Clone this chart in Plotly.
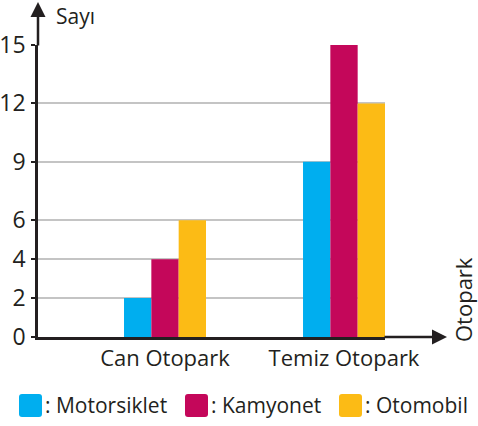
import plotly.graph_objects as go

categories = ["Can Otopark", "Temiz Otopark"]
series_names = ["Motorsiklet", "Kamyonet", "Otomobil"]
motorsiklet = [2, 9]
kamyonet = [4, 15]
otomobil = [6, 12]
y_ticks = [0, 2, 4, 6, 9, 12, 15]

colors = ["#00aeef", "#c4075a", "#fcbb15"]
values = [motorsiklet, kamyonet, otomobil]
FONT = "Open Sans"
INK = "#231f20"

W, H = 478, 426
L, R, T, B = 38, 385, 45, 337


def px2x(px):
    return (px - L) / (R - L)


def py2y(py):
    return (B - py) / (B - T)


def rounded_rect(x0, y0, x1, y1, r=3):
    # pixel coordinates -> paper path with rounded corners
    pts = []
    def P(x, y):
        return f"{px2x(x):.5f},{py2y(y):.5f}"
    return (f"M {P(x0 + r, y0)} L {P(x1 - r, y0)} Q {P(x1, y0)} {P(x1, y0 + r)} "
            f"L {P(x1, y1 - r)} Q {P(x1, y1)} {P(x1 - r, y1)} "
            f"L {P(x0 + r, y1)} Q {P(x0, y1)} {P(x0, y1 - r)} "
            f"L {P(x0, y0 + r)} Q {P(x0, y0)} {P(x0 + r, y0)} Z")


fig = go.Figure()
for name, vals, col in zip(series_names, values, colors):
    fig.add_trace(go.Bar(x=categories, y=vals, name=name, marker_color=col,
                         marker_line_width=0, showlegend=False))

fig.update_layout(
    width=W, height=H,
    margin=dict(l=L, r=W - R, t=T, b=H - B, autoexpand=False),
    paper_bgcolor="white", plot_bgcolor="white",
    barmode="group", bargap=0.542, bargroupgap=0,
    font=dict(family=FONT, color=INK),
    xaxis=dict(type="category", range=[-0.7095, 1.229], showline=True,
               linecolor=INK, linewidth=2.5, showgrid=False, ticks="",
               tickfont=dict(size=22, color=INK), ticklabelstandoff=0,
               automargin=False),
    yaxis=dict(range=[0, 15], tickvals=y_ticks, showline=True, linecolor=INK,
               linewidth=2.5, showgrid=True, gridcolor="#c4c4c4", gridwidth=1.5,
               zeroline=False, ticks="outside", ticklen=4, tickwidth=2,
               tickcolor=INK, tickfont=dict(size=23, color=INK), automargin=False,
               ticklabelstandoff=1),
)

annotations = []
# axis arrows
annotations.append(dict(xref="paper", yref="paper", x=px2x(447), y=0, ax=-64, ay=0,
                        axref="pixel", ayref="pixel", text="", showarrow=True,
                        arrowhead=2, arrowsize=1.2, arrowwidth=2.5, arrowcolor=INK))
annotations.append(dict(xref="paper", yref="paper", x=0, y=py2y(2), ax=0, ay=45,
                        axref="pixel", ayref="pixel", text="", showarrow=True,
                        arrowhead=2, arrowsize=1.2, arrowwidth=2.5, arrowcolor=INK))
# axis titles
annotations.append(dict(xref="paper", yref="paper", x=px2x(54), y=py2y(16),
                        xanchor="left", yanchor="middle", text="Sayı", showarrow=False,
                        font=dict(size=21, color=INK)))
annotations.append(dict(xref="paper", yref="paper", x=px2x(463), y=py2y(300),
                        xanchor="center", yanchor="middle", text="Otopark", textangle=-90,
                        showarrow=False, font=dict(size=22, color=INK)))

shapes = []
legend_x = [19, 185, 339]
for lx, name, col in zip(legend_x, series_names, colors):
    shapes.append(dict(type="path", xref="paper", yref="paper",
                       path=rounded_rect(lx, 394, lx + 23, 417),
                       fillcolor=col, line=dict(width=0)))
    annotations.append(dict(xref="paper", yref="paper", x=px2x(lx + 24), y=py2y(405),
                            xanchor="left", yanchor="middle", text=": " + name,
                            showarrow=False, font=dict(size=21, color=INK)))

fig.update_layout(annotations=annotations, shapes=shapes)
fig.write_html("out.html", config={"displayModeBar": False},
               post_script="document.body.style.margin='0';document.body.style.overflow='hidden';")
